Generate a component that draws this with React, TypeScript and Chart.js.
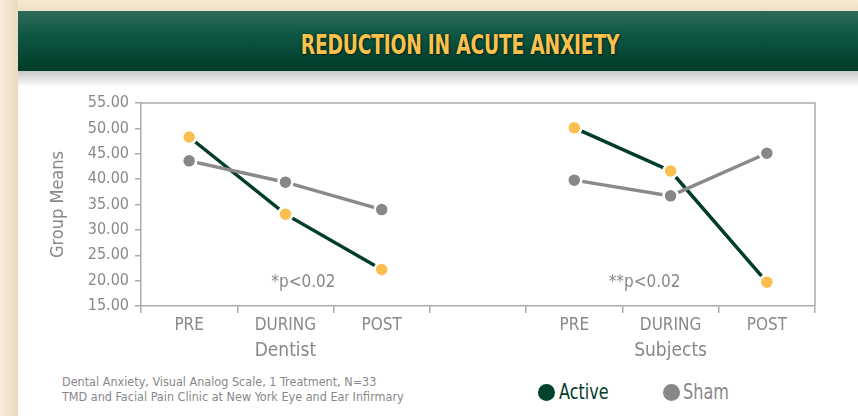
import React, { useEffect, useRef } from "react";
import { Chart, registerables } from "chart.js";

Chart.register(...registerables);

const categories = ["PRE", "DURING", "POST", "", "PRE", "DURING", "POST"];
const activeValues = [48.3, 33.1, 22.2, null, 50.1, 41.6, 19.7];
const shamValues = [43.6, 39.4, 34.0, null, 39.8, 36.7, 45.1];
const groupLabels = ["Dentist", "Subjects"];
const groupIndex = [1, 5];
const notes = ["*p<0.02", "**p<0.02"];
const yTicksMin = 15;
const yTicksMax = 55;
const yStep = 5;

const NARROW = "'Liberation Sans Narrow', 'DejaVu Sans Condensed', 'Arial Narrow', sans-serif";
const GRAY = "#88888b";
const AXIS = "#ababad";
const DKGREEN = "#003d2b";
const GOLD = "#fbbf4f";

const decor = {
  id: "decor",
  afterDraw(chart: any) {
    const { ctx, chartArea, scales } = chart;
    const x = scales.x;
    const y = scales.y;
    ctx.save();
    ctx.strokeStyle = AXIS;
    ctx.lineWidth = 1.5;
    ctx.beginPath();
    ctx.moveTo(chartArea.left, chartArea.top);
    ctx.lineTo(chartArea.right, chartArea.top);
    ctx.lineTo(chartArea.right, chartArea.bottom);
    ctx.stroke();
    ctx.fillStyle = GRAY;
    ctx.font = `19px ${NARROW}`;
    ctx.textAlign = "center";
    ctx.textBaseline = "middle";
    groupLabels.forEach((g, i) => {
      ctx.fillText(g, x.getPixelForValue(groupIndex[i]), 351);
    });
    ctx.font = `17px ${NARROW}`;
    ctx.fillText(notes[0], x.getPixelForValue(1) + 18, y.getPixelForValue(19.7));
    ctx.fillText(notes[1], x.getPixelForValue(5) - 26, y.getPixelForValue(19.7));
    ctx.restore();
  },
};

export default function App() {
  const ref = useRef<HTMLCanvasElement>(null);
  useEffect(() => {
    document.body.style.margin = "0";
    const chart = new Chart(ref.current!, {
      type: "line",
      data: {
        labels: categories,
        datasets: [
          {
            label: "Sham",
            data: shamValues,
            borderColor: "#8a8a8c",
            backgroundColor: "#87878a",
            borderWidth: 3.5,
            pointRadius: 7,
            pointBorderColor: "#ffffff",
            pointBorderWidth: 2.5,
            pointBackgroundColor: "#87878a",
            spanGaps: false,
          },
          {
            label: "Active",
            data: activeValues,
            borderColor: DKGREEN,
            backgroundColor: GOLD,
            borderWidth: 3.5,
            pointRadius: 7,
            pointBorderColor: "#ffffff",
            pointBorderWidth: 2.5,
            pointBackgroundColor: GOLD,
            spanGaps: false,
          },
        ],
      },
      options: {
        animation: false,
        responsive: false,
        layout: { padding: { left: 48, top: 103, right: 43, bottom: 0 } },
        plugins: { legend: { display: false }, tooltip: { enabled: false } },
        scales: {
          x: {
            offset: true,
            grid: {
              offset: true,
              drawOnChartArea: false,
              drawTicks: true,
              tickLength: 7,
              color: AXIS,
              lineWidth: 1.5,
            },
            border: { color: AXIS, width: 1.5 },
            ticks: {
              color: GRAY,
              font: { family: NARROW, size: 17 },
              padding: 2,
              maxRotation: 0,
              autoSkip: false,
            },
            afterFit(s: any) {
              s.height = 110;
            },
          },
          y: {
            min: yTicksMin,
            max: yTicksMax,
            grid: {
              drawOnChartArea: false,
              tickLength: 6,
              color: AXIS,
              lineWidth: 1.5,
            },
            border: { color: AXIS, width: 1.5 },
            ticks: {
              stepSize: yStep,
              color: GRAY,
              font: { family: NARROW, size: 16 },
              padding: 6,
              callback: (v: any) => Number(v).toFixed(2),
            },
            title: {
              display: true,
              text: "Group Means",
              color: GRAY,
              font: { family: NARROW, size: 18 },
              padding: { top: 0, bottom: 0 },
            },
            afterFit(s: any) {
              s.width = 93;
            },
          },
        },
      },
      plugins: [decor],
    });
    return () => chart.destroy();
  }, []);

  return (
    <div
      style={{
        position: "relative",
        width: 858,
        height: 416,
        overflow: "hidden",
        background: "#ffffff",
        fontFamily: NARROW,
      }}
    >
      <div
        style={{
          position: "absolute",
          left: 0,
          top: 0,
          width: 858,
          height: 11,
          background: "linear-gradient(180deg, #f6ead4, #eee0c6)",
        }}
      />
      <div
        style={{
          position: "absolute",
          left: 0,
          top: 0,
          width: 18,
          height: 416,
          background: "linear-gradient(90deg, #f9eedb, #eadbbf)",
        }}
      />
      <div
        style={{
          position: "absolute",
          left: 18,
          top: 71,
          width: 840,
          height: 16,
          background: "linear-gradient(180deg, #c9c9c9, #ffffff)",
        }}
      />
      <div
        style={{
          position: "absolute",
          left: 18,
          top: 11,
          width: 840,
          height: 60,
          background: "linear-gradient(180deg, #2c6a59 0%, #0c5542 45%, #003a27 100%)",
        }}
      />
      <div
        style={{
          position: "absolute",
          left: 160,
          top: 29,
          width: 600,
          textAlign: "center",
          color: "#fcc14c",
          fontWeight: "bold",
          fontSize: 26,
          letterSpacing: -0.3,
          lineHeight: "32px",
          transform: "scaleX(0.8)",
          transformOrigin: "50% 50%",
          textShadow: "0 0 3px #00261a, 1px 1px 2px #00261a",
        }}
      >
        REDUCTION IN ACUTE ANXIETY
      </div>
      <div
        style={{
          position: "absolute",
          left: 62,
          top: 374,
          color: GRAY,
          fontSize: 12.5,
          lineHeight: "15px",
        }}
      >
        Dental Anxiety, Visual Analog Scale, 1 Treatment, N=33
        <br />
        TMD and Facial Pain Clinic at New York Eye and Ear Infirmary
      </div>
      <div style={{ position: "absolute", left: 538, top: 384, width: 17, height: 17, borderRadius: "50%", background: "#00432d" }} />
      <div style={{ position: "absolute", left: 559, top: 378, color: DKGREEN, fontSize: 21, lineHeight: "28px", transform: "scaleX(0.85)", transformOrigin: "0 50%" }}>Active</div>
      <div style={{ position: "absolute", left: 663, top: 384, width: 17, height: 17, borderRadius: "50%", background: "#88888b" }} />
      <div style={{ position: "absolute", left: 683, top: 378, color: GRAY, fontSize: 21, lineHeight: "28px", transform: "scaleX(0.85)", transformOrigin: "0 50%" }}>Sham</div>
      <canvas
        ref={ref}
        width={858}
        height={416}
        style={{ position: "absolute", left: 0, top: 0, width: 858, height: 416 }}
      />
    </div>
  );
}
